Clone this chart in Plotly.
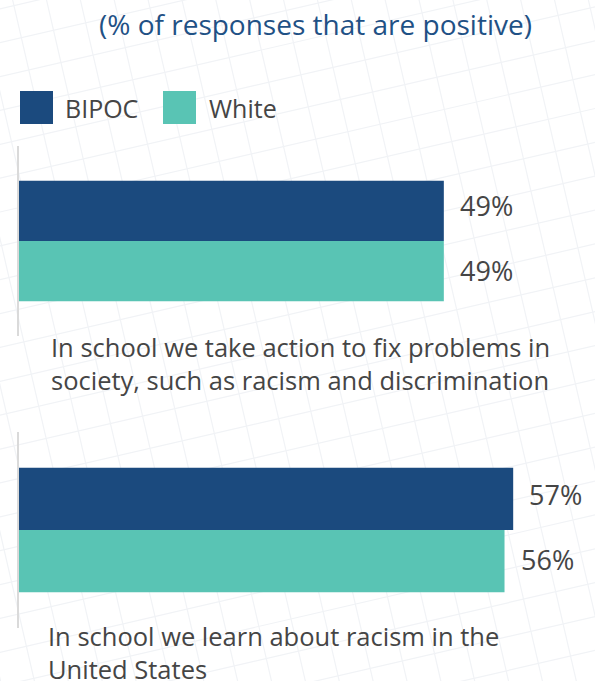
import math
import plotly.graph_objects as go

# ---- data ----
title_text = "(% of responses that are positive)"
questions = [
    "In school we take action to fix problems in<br>society, such as racism and discrimination",
    "In school we learn about racism in the<br>United States",
]
series_names = ["BIPOC", "White"]
bipoc_values = [49, 57]
white_values = [49, 56]

# ---- style ----
W, H = 595, 681
FONT = "Open Sans"
C_BIPOC = "#1b4a7e"
C_WHITE = "#59c4b4"
C_TEXT = "#454545"
C_TITLE = "#1f5185"
C_GRID = "#f1f3f6"


def px(x):
    return x / W


def py(y):
    return 1 - y / H


fig = go.Figure()

yaxes = ["y", "y2"]
for i, q in enumerate(questions):
    ya = yaxes[i]
    # White first so that BIPOC is drawn above it in group mode
    fig.add_trace(go.Bar(
        x=[white_values[i]], y=[q], orientation="h", name=series_names[1],
        marker=dict(color=C_WHITE, line=dict(width=0)), yaxis=ya, xaxis="x",
        showlegend=False, hoverinfo="x+name",
    ))
    fig.add_trace(go.Bar(
        x=[bipoc_values[i]], y=[q], orientation="h", name=series_names[0],
        marker=dict(color=C_BIPOC, line=dict(width=0)), yaxis=ya, xaxis="x",
        showlegend=False, hoverinfo="x+name",
    ))

annotations = []
# value labels
raise_px = [(5, 1), (5, 2)]
half = [30.5, 31]
for i, q in enumerate(questions):
    yref = yaxes[i]
    annotations.append(dict(
        x=bipoc_values[i], y=q, xref="x", yref=yref, text=f"{bipoc_values[i]}%",
        xanchor="left", yanchor="middle", xshift=14, yshift=half[i] + raise_px[i][0],
        showarrow=False, font=dict(family=FONT, size=27, color=C_TEXT),
    ))
    annotations.append(dict(
        x=white_values[i], y=q, xref="x", yref=yref, text=f"{white_values[i]}%",
        xanchor="left", yanchor="middle", xshift=14, yshift=-half[i] + raise_px[i][1],
        showarrow=False, font=dict(family=FONT, size=27, color=C_TEXT),
    ))

# category labels below each group
label_pos = [(49, 328), (46, 617)]
for i, q in enumerate(questions):
    lx, ly = label_pos[i]
    annotations.append(dict(
        x=px(lx), y=py(ly), xref="paper", yref="paper", text=q, align="left",
        xanchor="left", yanchor="top", showarrow=False,
        font=dict(family=FONT, size=25.5, color=C_TEXT),
    ))

# title
annotations.append(dict(
    x=px(315), y=py(24), xref="paper", yref="paper", text=title_text,
    xanchor="center", yanchor="middle", showarrow=False,
    font=dict(family=FONT, size=28, color=C_TITLE),
))

shapes = []

# faint tilted background grid (decoration)
theta = math.radians(13)
spacing = 33.0
n1 = (math.sin(theta), math.cos(theta))    # normal of the "horizontal" lines
n2 = (math.cos(theta), -math.sin(theta))   # normal of the "vertical" lines
c0 = n1[0] * 300 + n1[1] * 75
d0 = n2[0] * 326.7 + n2[1] * 40
for normal, ref in ((n1, c0), (n2, d0)):
    direction = (-normal[1], normal[0])
    for k in range(-40, 41):
        c = ref + k * spacing
        cx, cy = normal[0] * c, normal[1] * c
        x0, y0 = cx - 1500 * direction[0], cy - 1500 * direction[1]
        x1, y1 = cx + 1500 * direction[0], cy + 1500 * direction[1]
        shapes.append(dict(
            type="line", xref="paper", yref="paper", layer="below",
            x0=px(x0), y0=py(y0), x1=px(x1), y1=py(y1),
            line=dict(color=C_GRID, width=1.2),
        ))

# manual legend
legend_items = [(series_names[0], C_BIPOC, 20, 63), (series_names[1], C_WHITE, 163, 207)]
for name, col, sx, tx in legend_items:
    shapes.append(dict(
        type="rect", xref="paper", yref="paper",
        x0=px(sx), x1=px(sx + 33), y0=py(124), y1=py(91),
        fillcolor=col, line=dict(width=0),
    ))
    annotations.append(dict(
        x=px(tx), y=py(107.5), xref="paper", yref="paper", text=name,
        xanchor="left", yanchor="middle", showarrow=False,
        font=dict(family=FONT, size=25, color=C_TEXT),
    ))

axis_common = dict(
    type="category", range=[-0.5, 0.5], showticklabels=False, showgrid=False,
    zeroline=False, showline=True, linecolor="#dadada", linewidth=2, ticks="",
    fixedrange=True, layer="above traces",
)

fig.update_layout(
    width=W, height=H,
    margin=dict(l=0, r=0, t=0, b=0, pad=0),
    paper_bgcolor="white", plot_bgcolor="rgba(0,0,0,0)",
    barmode="group", bargap=0.365, bargroupgap=0,
    xaxis=dict(domain=[px(19), 1], range=[0, 576 / 8.67], visible=False,
               anchor="y", fixedrange=True),
    yaxis=dict(domain=[py(336), py(146)], anchor="x", **axis_common),
    yaxis2=dict(domain=[py(628), py(432)], anchor="x", **axis_common),
    annotations=annotations,
    shapes=shapes,
    showlegend=False,
    font=dict(family=FONT, color=C_TEXT),
)

fig.write_html(
    "out.html",
    config={"displayModeBar": False},
    post_script="document.body.style.margin='0px';document.body.style.overflow='hidden';",
)
